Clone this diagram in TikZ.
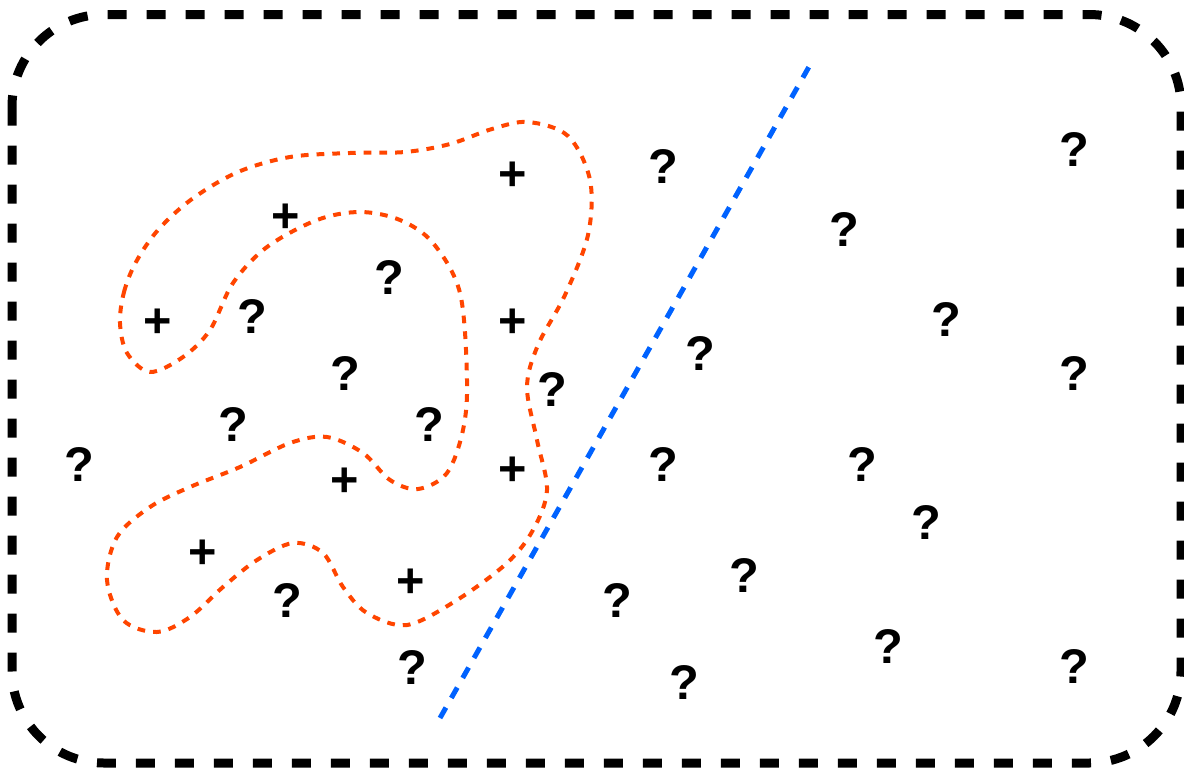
\documentclass[tikz,border=0pt]{standalone}
\usepackage{fontspec}
\setmainfont{Liberation Sans}
\definecolor{orangeline}{RGB}{255,69,0}
\definecolor{blueline}{RGB}{0,98,255}
\begin{document}
\begin{tikzpicture}[x=0.75pt,y=-0.75pt,
  frame/.style={draw=black,line width=6.75pt,dash pattern=on 14.25pt off 15pt,rounded corners=69pt},
  region/.style={draw=orangeline,line width=3pt,dash pattern=on 5.8pt off 6pt},
  divider/.style={draw=blueline,line width=3.75pt,dash pattern=on 9pt off 8.25pt},
  sym/.style={anchor=base,inner sep=0pt,font=\fontsize{36.5}{40}\selectfont\bfseries}]
\useasboundingbox (0,0) rectangle (1184,768);
\path[frame] (12,14.5) rectangle (1181,763);
% orange region
\path[region] plot[smooth cycle,tension=0.55] coordinates {
(120,323) (124,292) (136,262) (158,230) (192,199) (238,172) (290,157) (350,153)
(405,152) (450,144) (492,129) (528,122) (568,136) (590,180) (588,235) (565,295)
(538,345) (527,387) (537,440)
(547,490) (533,530) (507,563) (457,600) (407,625) (367,613) (343,587) (323,553)
(293,543) (257,560) (223,587) (190,617) (157,632) (123,620) (107,580) (117,537)
(150,507) (190,487) (240,467) (290,443) (327,437) (363,453) (390,480) (418,489)
(447,473) (463,430) (467,380) (460,293) (433,243) (400,220) (360,212) (317,220)
(267,247) (233,283) (210,330) (183,357) (150,372) (127,353)};
% blue divider
\coordinate (btop) at (810,65);
\coordinate (bbot) at (440,718);
\path[divider] (bbot) -- (btop);
% plus signs
\node[sym] (p1) at (513,190.5) {+};
\node[sym] (p2) at (286,232.5) {+};
\node[sym] (p3) at (158,337.5) {+};
\node[sym] (p4) at (513,337.5) {+};
\node[sym] (p5) at (513,485) {+};
\node[sym] (p6) at (345,496.5) {+};
\node[sym] (p7) at (203,568.5) {+};
\node[sym] (p8) at (411,597.5) {+};
% question marks
\node[sym] (q1) at (663,183.5) {?};
\node[sym] (q2) at (1074,166.5) {?};
\node[sym] (q3) at (844,246) {?};
\node[sym] (q4) at (389,294.5) {?};
\node[sym] (q5) at (252,333) {?};
\node[sym] (q6) at (946,336) {?};
\node[sym] (q7) at (700,370) {?};
\node[sym] (q8) at (345,390) {?};
\node[sym] (q9) at (1074,390) {?};
\node[sym] (q10) at (552,406.5) {?};
\node[sym] (q11) at (233,441) {?};
\node[sym] (q12) at (429,441) {?};
\node[sym] (q13) at (79,481) {?};
\node[sym] (q14) at (663,481) {?};
\node[sym] (q15) at (862,481) {?};
\node[sym] (q16) at (926,539.5) {?};
\node[sym] (q17) at (744,592.5) {?};
\node[sym] (q18) at (617,617.5) {?};
\node[sym] (q19) at (287,617.5) {?};
\node[sym] (q20) at (888,663.5) {?};
\node[sym] (q21) at (412,684.5) {?};
\node[sym] (q22) at (1074,683.5) {?};
\node[sym] (q23) at (684,699) {?};
\end{tikzpicture}
\end{document}
